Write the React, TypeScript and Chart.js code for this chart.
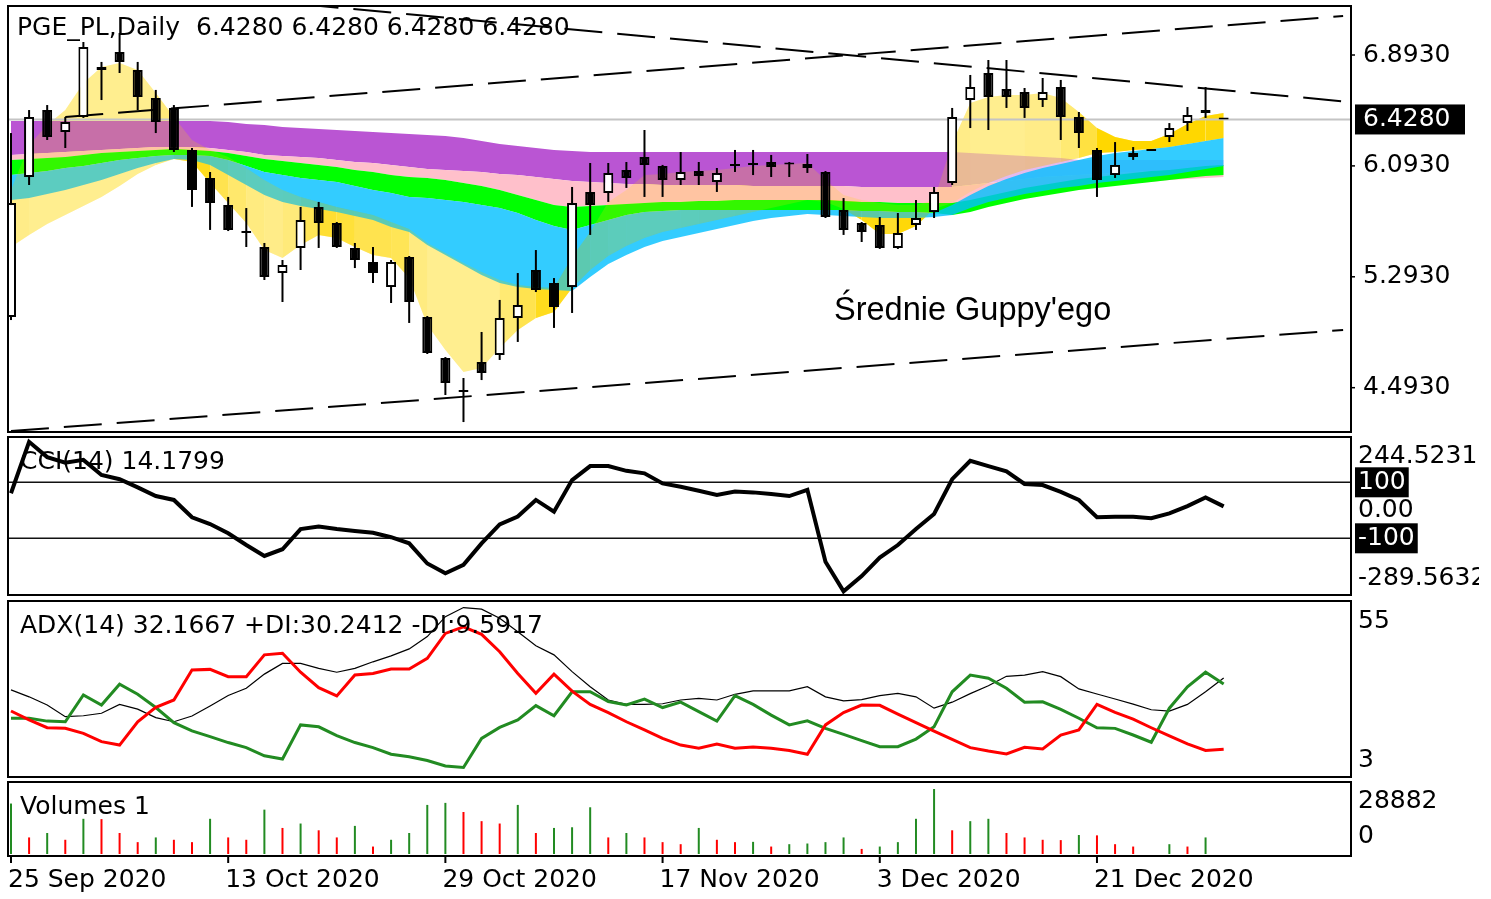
import React, { useEffect, useRef } from "react";
import { Chart, registerables } from "chart.js";

Chart.register(...registerables);

const W = 1491;
const H = 899;
const FONT = '"DejaVu Sans", Verdana, sans-serif';
const FONT_NOTE = '"Liberation Sans", Arial, sans-serif';

// ---------------- data ----------------
const symbol = "PGE_PL,Daily";
const noteText = "Średnie Guppy'ego";
const dateLabels = ["25 Sep 2020", "13 Oct 2020", "29 Oct 2020", "17 Nov 2020", "3 Dec 2020", "21 Dec 2020"];
const dateTickIndex = [0, 12, 24, 36, 48, 60];
const priceTicks = [6.893, 6.093, 5.293, 4.493];
const lastPrice = 6.428;

const openP = [
  5.003, 6.013, 6.496, 6.338, 6.446, 6.785, 6.915, 6.785, 6.583, 6.511,
  6.208, 6.006, 5.811, 5.616, 5.508, 5.32, 5.501, 5.797, 5.681, 5.501,
  5.4, 5.219, 5.436, 5.003, 4.707, 4.469, 4.678, 4.729, 4.996, 5.342,
  5.248, 5.219, 5.905, 5.897, 6.063, 6.157, 6.092, 5.991, 6.056, 5.977,
  6.092, 6.1, 6.121, 6.107, 6.078, 6.049, 5.775, 5.681, 5.667, 5.501,
  5.667, 5.76, 5.97, 6.568, 6.763, 6.648, 6.626, 6.568, 6.662, 6.446,
  6.208, 6.027, 6.157, 6.2, 6.301, 6.402, 6.475, 6.428,
];
const highP = [
  6.33, 6.496, 6.532, 6.446, 6.987, 6.843, 7.052, 6.843, 6.641, 6.532,
  6.222, 6.049, 5.869, 5.789, 5.537, 5.414, 5.797, 5.833, 5.688, 5.537,
  5.508, 5.414, 5.443, 5.01, 4.714, 4.563, 4.895, 5.126, 5.32, 5.486,
  5.284, 5.941, 6.114, 6.114, 6.121, 6.352, 6.1, 6.193, 6.121, 6.078,
  6.208, 6.208, 6.172, 6.121, 6.179, 6.056, 5.861, 5.688, 5.724, 5.753,
  5.847, 5.941, 6.511, 6.749, 6.857, 6.857, 6.655, 6.727, 6.713, 6.482,
  6.222, 6.265, 6.229, 6.2, 6.402, 6.518, 6.662, 6.428,
];
const lowP = [
  4.981, 5.955, 6.28, 6.222, 6.439, 6.568, 6.763, 6.496, 6.33, 6.193,
  5.797, 5.631, 5.623, 5.508, 5.27, 5.111, 5.342, 5.501, 5.501, 5.356,
  5.248, 5.104, 4.96, 4.736, 4.44, 4.245, 4.548, 4.693, 4.823, 5.183,
  4.924, 5.032, 5.595, 5.833, 5.934, 5.869, 5.869, 5.955, 5.955, 5.905,
  6.049, 6.027, 6.013, 6.013, 6.042, 5.717, 5.595, 5.544, 5.494, 5.494,
  5.631, 5.717, 5.955, 6.366, 6.352, 6.511, 6.439, 6.518, 6.28, 6.222,
  5.869, 6.006, 6.136, 6.2, 6.265, 6.345, 6.439, 6.428,
];
const closeP = [
  5.825, 6.446, 6.301, 6.41, 6.951, 6.806, 6.843, 6.59, 6.41, 6.208,
  5.919, 5.825, 5.631, 5.609, 5.291, 5.378, 5.703, 5.681, 5.508, 5.414,
  5.32, 5.4, 5.111, 4.743, 4.527, 4.462, 4.599, 4.996, 5.09, 5.198,
  5.075, 5.825, 5.811, 6.042, 6.006, 6.099, 5.991, 6.049, 6.02, 6.042,
  6.096, 6.1, 6.085, 6.103, 6.107, 5.724, 5.631, 5.616, 5.501, 5.609,
  5.717, 5.905, 6.446, 6.662, 6.59, 6.59, 6.511, 6.626, 6.446, 6.33,
  5.991, 6.1, 6.186, 6.2, 6.366, 6.46, 6.496, 6.428,
];

// trend lines: [bar index, price]
const trendDown = [{ x: 16, y: 7.2598 }, { x: 73.7, y: 6.5576 }];
const trendMid = [{ x: 3, y: 6.446 }, { x: 73.6, y: 7.174 }];
const trendLow = [{ x: 0, y: 4.18 }, { x: 73.6, y: 4.909 }];

// Guppy moving-average groups (upper / lower envelope of each colour group)
const gmmaPurpleUpper = [
  6.417, 6.417, 6.417, 6.417, 6.417, 6.417, 6.417, 6.417, 6.417, 6.417,
  6.417, 6.417, 6.41, 6.395, 6.388, 6.374, 6.366, 6.359, 6.352, 6.345,
  6.338, 6.33, 6.323, 6.316, 6.309, 6.294, 6.273, 6.251, 6.237, 6.222,
  6.208, 6.2, 6.193, 6.193, 6.193, 6.193, 6.193, 6.193, 6.193, 6.193,
  6.193, 6.193, 6.193, 6.193, 6.193, 6.193, 6.193, 6.193, 6.193, 6.193,
  6.193, 6.193, 6.193, 6.186, 6.179, 6.172, 6.164, 6.157, 6.15, 6.136,
  6.136, 6.136, 6.136, 6.136, 6.136, 6.136, 6.136, 6.136,
];
const gmmaPurpleLower = [
  6.172, 6.179, 6.186, 6.193, 6.2, 6.208, 6.215, 6.222, 6.229, 6.229,
  6.229, 6.222, 6.208, 6.193, 6.172, 6.164, 6.157, 6.15, 6.136, 6.121,
  6.114, 6.1, 6.085, 6.071, 6.063, 6.056, 6.049, 6.035, 6.027, 6.013,
  5.999, 5.984, 5.977, 5.97, 5.962, 5.962, 5.955, 5.955, 5.955, 5.955,
  5.955, 5.948, 5.948, 5.948, 5.948, 5.948, 5.948, 5.941, 5.941, 5.941,
  5.941, 5.941, 5.941, 5.955, 5.97, 5.984, 5.999, 6.013, 6.02, 6.027,
  6.035, 6.042, 6.049, 6.056, 6.063, 6.063, 6.063, 6.063,
];
const gmmaPinkLower = [
  6.136, 6.143, 6.15, 6.157, 6.172, 6.186, 6.193, 6.2, 6.208, 6.215,
  6.208, 6.2, 6.186, 6.164, 6.143, 6.128, 6.114, 6.1, 6.085, 6.063,
  6.049, 6.027, 6.013, 6.006, 5.991, 5.97, 5.948, 5.919, 5.883, 5.847,
  5.811, 5.797, 5.804, 5.811, 5.818, 5.825, 5.833, 5.833, 5.84, 5.84,
  5.847, 5.847, 5.847, 5.847, 5.847, 5.847, 5.84, 5.833, 5.833, 5.825,
  5.825, 5.825, 5.825, 5.825, 5.84, 5.854, 5.876, 5.897, 5.912, 5.926,
  5.941, 5.955, 5.97, 5.977, 5.991, 5.999, 6.006, 6.013,
];
const gmmaGreenUpper = [
  6.136, 6.143, 6.15, 6.157, 6.172, 6.186, 6.193, 6.2, 6.208, 6.215,
  6.208, 6.2, 6.186, 6.164, 6.143, 6.128, 6.114, 6.1, 6.085, 6.063,
  6.049, 6.027, 6.013, 6.006, 5.991, 5.97, 5.948, 5.919, 5.883, 5.847,
  5.811, 5.797, 5.804, 5.811, 5.818, 5.825, 5.833, 5.833, 5.84, 5.84,
  5.847, 5.847, 5.847, 5.847, 5.847, 5.847, 5.84, 5.833, 5.833, 5.825,
  5.825, 5.825, 5.825, 5.847, 5.876, 5.905, 5.934, 5.955, 5.977, 5.999,
  6.013, 6.027, 6.042, 6.056, 6.063, 6.078, 6.092, 6.1,
];
const gmmaGreenLower = [
  6.027, 6.042, 6.056, 6.078, 6.092, 6.114, 6.136, 6.15, 6.164, 6.172,
  6.172, 6.164, 6.136, 6.092, 6.049, 6.027, 6.006, 5.991, 5.977, 5.948,
  5.919, 5.897, 5.869, 5.861, 5.847, 5.833, 5.811, 5.789, 5.753, 5.703,
  5.659, 5.631, 5.667, 5.703, 5.739, 5.76, 5.768, 5.775, 5.775, 5.775,
  5.775, 5.775, 5.775, 5.775, 5.775, 5.775, 5.775, 5.768, 5.768, 5.76,
  5.76, 5.753, 5.739, 5.76, 5.797, 5.825, 5.854, 5.876, 5.897, 5.919,
  5.934, 5.948, 5.962, 5.977, 5.991, 6.006, 6.02, 6.027,
];
const gmmaBlueUpper = [
  6.027, 6.042, 6.056, 6.078, 6.092, 6.114, 6.136, 6.15, 6.164, 6.172,
  6.172, 6.164, 6.136, 6.092, 6.049, 6.027, 6.006, 5.991, 5.977, 5.948,
  5.919, 5.897, 5.869, 5.861, 5.847, 5.833, 5.811, 5.789, 5.753, 5.703,
  5.659, 5.631, 5.667, 5.703, 5.739, 5.76, 5.768, 5.775, 5.775, 5.775,
  5.775, 5.775, 5.775, 5.775, 5.775, 5.775, 5.775, 5.768, 5.768, 5.76,
  5.76, 5.753, 5.811, 5.883, 5.948, 5.999, 6.042, 6.078, 6.107, 6.136,
  6.164, 6.186, 6.2, 6.215, 6.229, 6.251, 6.273, 6.294,
];
const gmmaBlueLower = [
  5.847, 5.861, 5.89, 5.919, 5.955, 5.991, 6.035, 6.078, 6.114, 6.143,
  6.136, 6.1, 6.027, 5.955, 5.883, 5.833, 5.804, 5.782, 5.76, 5.732,
  5.703, 5.652, 5.616, 5.522, 5.45, 5.378, 5.306, 5.248, 5.219, 5.205,
  5.198, 5.191, 5.291, 5.385, 5.45, 5.508, 5.551, 5.58, 5.609, 5.638,
  5.667, 5.695, 5.717, 5.732, 5.746, 5.739, 5.732, 5.724, 5.717, 5.717,
  5.717, 5.724, 5.739, 5.789, 5.833, 5.861, 5.89, 5.912, 5.934, 5.948,
  5.97, 5.984, 5.999, 6.013, 6.027, 6.049, 6.071, 6.092,
];
const gmmaYellowUpper = [
  5.919, 6.244, 6.388, 6.496, 6.691, 6.806, 6.835, 6.785, 6.619, 6.446,
  6.28, 6.208, 6.157, 6.078, 5.991, 5.919, 5.869, 5.833, 5.797, 5.768,
  5.739, 5.688, 5.638, 5.537, 5.465, 5.393, 5.328, 5.27, 5.234, 5.219,
  5.212, 5.436, 5.616, 5.833, 5.919, 6.027, 6.035, 6.049, 6.056, 6.063,
  6.078, 6.092, 6.1, 6.107, 6.114, 5.991, 5.883, 5.847, 5.825, 5.811,
  5.811, 5.847, 6.258, 6.547, 6.59, 6.604, 6.604, 6.619, 6.583, 6.482,
  6.366, 6.301, 6.273, 6.273, 6.323, 6.395, 6.453, 6.475,
];
const gmmaYellowLower = [
  5.508, 5.595, 5.674, 5.739, 5.804, 5.869, 5.948, 6.035, 6.1, 6.143,
  6.121, 5.97, 5.825, 5.681, 5.486, 5.429, 5.522, 5.595, 5.573, 5.508,
  5.45, 5.429, 5.284, 4.945, 4.765, 4.606, 4.635, 4.779, 4.909, 4.996,
  5.039, 5.212, 5.342, 5.443, 5.515, 5.573, 5.616, 5.645, 5.674, 5.703,
  5.732, 5.76, 5.789, 5.818, 5.847, 5.833, 5.782, 5.703, 5.602, 5.602,
  5.659, 5.782, 5.825, 5.905, 5.97, 6.02, 6.063, 6.092, 6.121, 6.15,
  6.186, 6.193, 6.208, 6.215, 6.229, 6.251, 6.273, 6.294,
];

const cci = [
  61, 244.5231, 190, 170, 180, 126, 111, 82, 51, 37,
  -25, -49, -82, -124, -163, -139, -67, -58, -67, -74,
  -80, -96, -118, -190, -225, -195, -118, -50, -22, 37,
  -5, 108, 158, 158, 141, 132, 96, 84, 70, 55,
  67, 64, 58, 51, 73, -184, -289.5632, -235, -169, -124,
  -67, -13, 111, 177, 158, 139, 94, 90, 66, 37,
  -25, -23, -23, -28, -11, 15, 46, 14.1799,
];
const cciLevels = [100, -100];

const adx = [
  28.4, 26.2, 23.6, 19.9, 20.2, 21.0, 23.8, 22.3, 19.6, 18.3,
  20.1, 23.3, 26.6, 28.9, 33.4, 36.8, 36.8, 35.2, 34.0, 35.2,
  37.3, 39.2, 41.4, 45.3, 51.6, 54.5, 54.0, 51.1, 46.8, 42.4,
  39.5, 34.2, 29.4, 25.2, 23.8, 23.8, 24.0, 25.2, 25.7, 25.2,
  27.0, 28.1, 28.1, 28.1, 29.4, 26.2, 24.9, 25.3, 26.6, 27.3,
  26.2, 22.6, 24.5, 27.2, 29.7, 32.7, 33.1, 34.2, 32.6, 28.7,
  27.1, 25.5, 23.9, 22.1, 21.7, 23.8, 27.8, 32.1667,
];
const plusDI = [
  19.4, 19.4, 18.5, 18.3, 26.8, 23.6, 30.2, 27.0, 22.8, 18.0,
  15.4, 13.6, 11.7, 10.1, 7.5, 6.5, 17.3, 16.7, 13.9, 11.7,
  10.1, 8.0, 7.2, 6.0, 4.3, 3.8, 13.0, 16.5, 18.9, 23.4,
  20.2, 27.8, 27.8, 24.7, 23.6, 25.5, 22.8, 24.5, 21.5, 18.5,
  26.6, 23.8, 20.4, 17.3, 18.6, 16.2, 14.3, 12.3, 10.4, 10.4,
  12.8, 16.7, 27.8, 33.1, 32.1, 28.9, 24.5, 24.6, 22.2, 19.4,
  16.4, 16.2, 14.1, 11.8, 22.6, 29.4, 34.0, 30.2412,
];
const minusDI = [
  21.7, 18.9, 16.4, 16.2, 14.6, 12.0, 10.9, 18.3, 22.9, 25.2,
  34.7, 34.9, 32.6, 32.6, 39.5, 40.0, 34.0, 29.1, 26.5, 33.1,
  33.6, 35.0, 35.0, 38.4, 46.3, 48.4, 46.0, 40.5, 33.6, 27.3,
  33.4, 28.0, 23.8, 21.2, 18.3, 15.7, 13.0, 10.9, 9.9, 11.2,
  9.9, 10.3, 9.9, 9.2, 8.0, 17.3, 21.2, 23.6, 23.5, 20.7,
  18.0, 15.3, 12.7, 10.1, 9.0, 8.1, 10.2, 9.7, 14.1, 15.7,
  23.8, 21.3, 19.1, 16.4, 13.8, 11.3, 9.2, 9.5917,
];
const adxScaleLabels = [55, 3];

const volumes = [
  22420, 7360, 9330, 6320, 15640, 15500, 9330, 5270, 7360, 6320,
  5270, 15640, 7360, 6320, 19710, 11580, 13540, 10530, 7360, 12490,
  3310, 6320, 9330, 21810, 22710, 18660, 14590, 13540, 21810, 9330,
  11580, 11880, 20760, 7360, 9330, 7360, 5270, 4360, 11580, 6320,
  5270, 5400, 3310, 4360, 4660, 5270, 7360, 2260, 3310, 5270,
  15640, 28882, 10530, 14590, 15640, 9330, 7360, 6320, 6170, 8430,
  8280, 4360, 3310, 1, 4360, 3310, 7360, 1,
];

// ---------------- layout ----------------
const PLOT_LEFT = 9;
const PLOT_RIGHT = 1350;
const X_MIN = -0.11;
const X_MAX = 73.98;
const LABEL_X = 1358;
const TEXT_CLIP = 1479;

const pricePanel = { top: 7, bottom: 431, yMin: 4.1805, yMax: 7.2393 };
const cciPanel = { top: 438, bottom: 594, yMin: -298.9, yMax: 258.2 };
const adxPanel = { top: 602, bottom: 776, yMin: 1.1, yMax: 56.26 };
const volPanel = { top: 783, bottom: 855, yMin: -444, yMax: 31545 };

const xy = (arr: number[]) => arr.map((y, x) => ({ x, y }));
const hline = (v: number) => [{ x: X_MIN - 1, y: v }, { x: X_MAX + 1, y: v }];

const lineDs = (data: any[], color: string, width: number, order: number, extra: any = {}) => ({
  type: "line",
  data,
  borderColor: color,
  borderWidth: width,
  pointRadius: 0,
  pointHoverRadius: 0,
  fill: false,
  tension: 0,
  order,
  clip: 0,
  ...extra,
});

// density of a band (thin lines drawn closer together look more solid)
const bandDensity = (upper: number[], lower: number[], k: number) => (ctx: any) => {
  const chart = ctx.chart;
  const ys = chart && chart.scales ? chart.scales.y : null;
  if (!ys) return 1;
  const w0 = Math.abs(ys.getPixelForValue(upper[ctx.p0DataIndex]) - ys.getPixelForValue(lower[ctx.p0DataIndex]));
  const w1 = Math.abs(ys.getPixelForValue(upper[ctx.p1DataIndex]) - ys.getPixelForValue(lower[ctx.p1DataIndex]));
  const w = Math.max(1, (w0 + w1) / 2);
  return Math.min(1, k / w);
};
const extraAlpha = (d: number, base: number) => {
  const a = Math.max(0, (d - base) / (1 - base));
  return Math.round(a * 20) / 20;
};

const edge = (arr: number[], order: number, fill: any, color: string, seg?: (c: any) => string) => {
  const ds: any = {
    type: "line",
    data: xy(arr),
    borderColor: "rgba(0,0,0,0)",
    borderWidth: 0,
    pointRadius: 0,
    pointHoverRadius: 0,
    tension: 0,
    fill,
    backgroundColor: color,
    order,
    clip: 0,
  };
  if (seg) ds.segment = { backgroundColor: seg };
  return ds;
};

function txt(ctx: CanvasRenderingContext2D, s: string, x: number, y: number, size = 25, color = "#000", family = FONT, baseline: CanvasTextBaseline = "middle") {
  ctx.font = `${size}px ${family}`;
  ctx.fillStyle = color;
  ctx.textAlign = "left";
  ctx.textBaseline = baseline;
  ctx.fillText(s, x, y);
}
function boxTxt(ctx: CanvasRenderingContext2D, s: string, x: number, y: number, boxW?: number) {
  ctx.font = `25px ${FONT}`;
  const w = boxW ?? ctx.measureText(s).width + 6;
  ctx.fillStyle = "#000";
  ctx.fillRect(x - 3, y - 15, w, 30);
  txt(ctx, s, x, y, 25, "#fff");
}
function frame(ctx: CanvasRenderingContext2D, a: any) {
  ctx.strokeStyle = "#000";
  ctx.lineWidth = 2;
  ctx.strokeRect(a.left - 1, a.top - 1, a.right - a.left + 2, a.bottom - a.top + 2);
}
function tick(ctx: CanvasRenderingContext2D, x: number, y: number) {
  ctx.strokeStyle = "#000";
  ctx.lineWidth = 1.5;
  ctx.beginPath();
  ctx.moveTo(x, y);
  ctx.lineTo(x + 5, y);
  ctx.stroke();
}

const deco = (id: string, draw: (ctx: CanvasRenderingContext2D, chart: any) => void) => ({
  id,
  afterDraw(chart: any) {
    const ctx = chart.ctx as CanvasRenderingContext2D;
    ctx.save();
    ctx.beginPath();
    ctx.rect(0, 0, TEXT_CLIP, H);
    ctx.clip();
    draw(ctx, chart);
    ctx.restore();
  },
});

function makeChart(canvas: HTMLCanvasElement, panel: any, datasets: any[], plugin: any) {
  return new Chart(canvas, {
    type: "line",
    data: { datasets } as any,
    options: {
      responsive: false,
      maintainAspectRatio: false,
      animation: false,
      devicePixelRatio: 1,
      events: [],
      layout: { padding: { left: PLOT_LEFT, right: W - PLOT_RIGHT, top: panel.top, bottom: H - panel.bottom } },
      plugins: { legend: { display: false }, tooltip: { enabled: false }, title: { display: false } },
      scales: {
        x: { type: "linear", min: X_MIN, max: X_MAX, display: false, offset: false },
        y: { type: "linear", min: panel.yMin, max: panel.yMax, display: false, beginAtZero: false },
      },
    } as any,
    plugins: [plugin],
  });
}

export default function App() {
  const pRef = useRef<HTMLCanvasElement>(null);
  const cRef = useRef<HTMLCanvasElement>(null);
  const aRef = useRef<HTMLCanvasElement>(null);
  const vRef = useRef<HTMLCanvasElement>(null);

  useEffect(() => {
    Chart.defaults.font.family = FONT;
    const up = closeP.map((c, i) => c >= openP[i]);
    const yBase = 0.3;
    const yellowD = bandDensity(gmmaYellowUpper, gmmaYellowLower, 24);
    const breakoutIndex = 52; // after the breakout candle the slow lines are mostly hidden behind the fast ones

    const priceDatasets = [
      {
        type: "bar",
        data: openP.map((o, i) => ({ x: i, y: [o, closeP[i]] })),
        backgroundColor: up.map((u) => (u ? "#ffffff" : "#000000")),
        borderColor: "#000",
        borderWidth: 2,
        borderSkipped: false,
        grouped: false,
        maxBarThickness: 10,
        minBarLength: 2,
        order: 0,
        clip: 0,
      },
      {
        type: "bar",
        data: lowP.map((l, i) => ({ x: i, y: [l, highP[i]] })),
        backgroundColor: "#000",
        borderWidth: 0,
        grouped: false,
        maxBarThickness: 2,
        order: 1,
        clip: 0,
      },
      lineDs(trendDown, "#000", 2, 2, { borderDash: [38, 15] }),
      lineDs(trendMid, "#000", 2, 2, { borderDash: [38, 15] }),
      lineDs(trendLow, "#000", 2, 2, { borderDash: [38, 15] }),
      lineDs(hline(lastPrice), "#c4c4c4", 2, 3),
      // 6: thin veil of the fast (yellow) lines over the slow groups
      edge(gmmaYellowUpper, 10, 16, "rgba(255,215,0,0.2)"),
      // 7,8 blue group
      edge(gmmaBlueUpper, 11, 8, "rgba(0,191,255,0.8)"),
      edge(gmmaBlueLower, 11, false, "transparent"),
      // 9,10 green group
      edge(gmmaGreenUpper, 12, 10, "#00ff00"),
      edge(gmmaGreenLower, 12, false, "transparent"),
      // 11 pink, 12,13 purple
      edge(gmmaPinkLower, 13, 12, "#ffc0cb"),
      edge(gmmaPurpleLower, 14, false, "transparent"),
      edge(gmmaPurpleUpper, 14, 12, "#ba55d3", (c) => (c.p0DataIndex >= breakoutIndex ? "rgba(186,85,211,0.4)" : "#ba55d3")),
      // 14,15,16 yellow group (underneath)
      edge(gmmaYellowUpper, 15, 16, "rgba(255,215,0,0)", (c) => `rgba(255,215,0,${extraAlpha(yellowD(c), yBase)})`),
      edge(gmmaYellowUpper, 15, 16, `rgba(255,215,0,${yBase})`),
      edge(gmmaYellowLower, 15, false, "transparent"),
    ];

    const n = closeP.length - 1;
    const ohlcText = [openP[n], highP[n], lowP[n], closeP[n]].map((v) => v.toFixed(4)).join(" ");

    const priceDeco = deco("priceDeco", (ctx, chart) => {
      const ys = chart.scales.y;
      frame(ctx, chart.chartArea);
      for (const t of priceTicks) {
        const y = ys.getPixelForValue(t);
        tick(ctx, PLOT_RIGHT, y);
        txt(ctx, t.toFixed(4), LABEL_X + 5, y);
      }
      const yl = ys.getPixelForValue(lastPrice);
      ctx.fillStyle = "#000";
      ctx.fillRect(LABEL_X - 3, yl - 15, 110, 30);
      txt(ctx, lastPrice.toFixed(4), LABEL_X + 5, yl, 25, "#fff");
      txt(ctx, symbol, 17, 28, 25);
      txt(ctx, ohlcText, 196, 28, 25);
      txt(ctx, noteText, 834, 320, 32.5, "#000", FONT_NOTE, "alphabetic");
    });

    const cciMax = Math.max(...cci);
    const cciMin = Math.min(...cci);
    const cciDeco = deco("cciDeco", (ctx, chart) => {
      const ys = chart.scales.y;
      frame(ctx, chart.chartArea);
      txt(ctx, `CCI(14) ${cci[n].toFixed(4)}`, 20, 462);
      txt(ctx, cciMax.toFixed(4), LABEL_X, ys.getPixelForValue(cciMax) + 15);
      txt(ctx, "0.00", LABEL_X, ys.getPixelForValue(0));
      for (const lv of cciLevels) boxTxt(ctx, String(lv), LABEL_X, ys.getPixelForValue(lv));
      txt(ctx, cciMin.toFixed(4), LABEL_X, ys.getPixelForValue(cciMin) - 13);
    });

    const adxDeco = deco("adxDeco", (ctx, chart) => {
      const ys = chart.scales.y;
      frame(ctx, chart.chartArea);
      txt(ctx, `ADX(14) ${adx[n].toFixed(4)} +DI:${plusDI[n].toFixed(4)} -DI:${minusDI[n].toFixed(4)}`, 20, 626);
      txt(ctx, String(adxScaleLabels[0]), LABEL_X, ys.getPixelForValue(adxScaleLabels[0]) + 16);
      txt(ctx, String(adxScaleLabels[1]), LABEL_X, ys.getPixelForValue(adxScaleLabels[1]) - 10);
    });

    const volMax = Math.max(...volumes);
    const volDeco = deco("volDeco", (ctx, chart) => {
      const ys = chart.scales.y;
      const xs = chart.scales.x;
      const a = chart.chartArea;
      frame(ctx, a);
      txt(ctx, `Volumes ${volumes[n]}`, 20, 807);
      txt(ctx, String(volMax), LABEL_X, ys.getPixelForValue(volMax) + 13);
      txt(ctx, "0", LABEL_X, ys.getPixelForValue(0) - 18);
      ctx.strokeStyle = "#000";
      ctx.lineWidth = 2;
      dateTickIndex.forEach((idx, k) => {
        const x = xs.getPixelForValue(idx);
        ctx.beginPath();
        ctx.moveTo(x, a.bottom);
        ctx.lineTo(x, a.bottom + 8);
        ctx.stroke();
        txt(ctx, dateLabels[k], x - 3, 880);
      });
    });

    const volColors = volumes.map((v, i) => (i === 0 || v > volumes[i - 1] ? "#228b22" : "#ff0000"));

    const charts = [
      makeChart(pRef.current!, pricePanel, priceDatasets, priceDeco),
      makeChart(
        cRef.current!,
        cciPanel,
        [
          lineDs(xy(cci), "#000", 4, 0),
          lineDs(hline(cciLevels[0]), "#111", 1.5, 1),
          lineDs(hline(cciLevels[1]), "#111", 1.5, 1),
        ],
        cciDeco
      ),
      makeChart(
        aRef.current!,
        adxPanel,
        [
          lineDs(xy(minusDI), "#ff0000", 3, 0),
          lineDs(xy(plusDI), "#228b22", 3, 1),
          lineDs(xy(adx), "#000", 1.2, 2),
        ],
        adxDeco
      ),
      makeChart(
        vRef.current!,
        volPanel,
        [
          {
            type: "bar",
            data: xy(volumes),
            backgroundColor: volColors,
            borderWidth: 0,
            grouped: false,
            maxBarThickness: 2,
            order: 0,
            clip: 0,
          },
        ],
        volDeco
      ),
    ];
    return () => charts.forEach((c) => c.destroy());
  }, []);

  const cs: React.CSSProperties = { position: "absolute", left: 0, top: 0, width: W, height: H };
  return (
    <div style={{ position: "absolute", left: 0, top: 0, width: W, height: H, background: "#fff", overflow: "hidden" }}>
      <canvas ref={pRef} width={W} height={H} style={cs} />
      <canvas ref={cRef} width={W} height={H} style={cs} />
      <canvas ref={aRef} width={W} height={H} style={cs} />
      <canvas ref={vRef} width={W} height={H} style={cs} />
    </div>
  );
}
